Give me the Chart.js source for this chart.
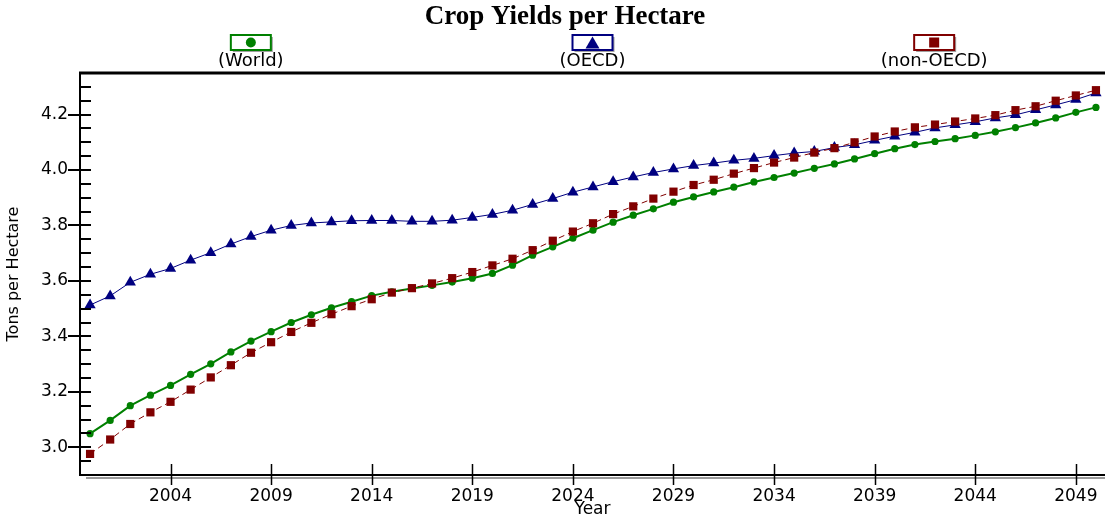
<!DOCTYPE html>
<html>
<head>
<meta charset="utf-8">
<script src="https://cdn.jsdelivr.net/npm/chart.js@4.4.1/dist/chart.umd.min.js"></script>
<style>
html,body{margin:0;padding:0;background:#fff;}
canvas{display:block;}
</style>
</head>
<body>
<canvas id="c" width="1105" height="518"></canvas>
<script>
const titleText = 'Crop Yields per Hectare';
const yAxisTitle = 'Tons per Hectare';
const xAxisTitle = 'Year';
const seriesNames = ['(World)', '(OECD)', '(non-OECD)'];
const seriesColors = ['#008000', '#000080', '#800000'];

const years = [2000,2001,2002,2003,2004,2005,2006,2007,2008,2009,
               2010,2011,2012,2013,2014,2015,2016,2017,2018,2019,
               2020,2021,2022,2023,2024,2025,2026,2027,2028,2029,
               2030,2031,2032,2033,2034,2035,2036,2037,2038,2039,
               2040,2041,2042,2043,2044,2045,2046,2047,2048,2049,2050];

const world = [3.049,3.097,3.150,3.188,3.223,3.263,3.301,3.344,3.383,3.417,
               3.450,3.478,3.503,3.525,3.547,3.561,3.573,3.584,3.596,3.610,
               3.627,3.657,3.693,3.723,3.754,3.783,3.812,3.837,3.860,3.884,
               3.903,3.921,3.938,3.957,3.973,3.989,4.006,4.022,4.040,4.059,
               4.077,4.092,4.103,4.113,4.125,4.138,4.153,4.170,4.188,4.208,4.226];

const oecd = [3.513,3.546,3.595,3.624,3.645,3.675,3.702,3.733,3.760,3.783,
              3.800,3.809,3.813,3.817,3.818,3.818,3.815,3.815,3.819,3.829,
              3.840,3.855,3.876,3.897,3.920,3.939,3.958,3.975,3.991,4.004,
              4.016,4.025,4.035,4.042,4.052,4.061,4.067,4.081,4.091,4.107,
              4.122,4.136,4.152,4.163,4.174,4.188,4.199,4.217,4.235,4.254,4.278];

const nonOecd = [2.976,3.028,3.084,3.126,3.164,3.208,3.252,3.296,3.341,3.379,
                 3.416,3.449,3.480,3.509,3.534,3.558,3.574,3.591,3.610,3.632,
                 3.656,3.680,3.711,3.745,3.778,3.808,3.841,3.869,3.897,3.922,
                 3.946,3.965,3.987,4.007,4.027,4.045,4.063,4.079,4.100,4.121,
                 4.139,4.154,4.164,4.175,4.186,4.198,4.216,4.230,4.250,4.269,4.288];

const xTickYears = [2004,2009,2014,2019,2024,2029,2034,2039,2044,2049];
const yLabelValues = [3.0,3.2,3.4,3.6,3.8,4.0,4.2];

const toPts = arr => years.map((yr, i) => ({x: yr, y: arr[i]}));
const isLabelled = v => yLabelValues.some(l => Math.abs(l - v) < 1e-6);

const SANS = 'DejaVu Sans';

const decorPlugin = {
  id: 'decor',
  afterDraw(chart) {
    const {ctx, chartArea: a, scales: {x, y}} = chart;
    ctx.save();
    // shadow under bottom axis
    ctx.strokeStyle = '#9a9a9a';
    ctx.lineWidth = 2;
    ctx.beginPath();
    ctx.moveTo(a.left + 6, a.bottom + 3);
    ctx.lineTo(a.right, a.bottom + 3);
    ctx.stroke();
    // axes
    ctx.strokeStyle = '#000';
    ctx.lineWidth = 2;
    ctx.beginPath();
    ctx.moveTo(a.left, a.top);
    ctx.lineTo(a.left, a.bottom);
    ctx.lineTo(a.right, a.bottom);
    ctx.stroke();
    ctx.lineWidth = 3;
    ctx.beginPath();
    ctx.moveTo(a.left - 1, a.top);
    ctx.lineTo(a.right, a.top);
    ctx.stroke();
    // y ticks
    ctx.lineWidth = 2;
    ctx.beginPath();
    y.ticks.forEach(t => {
      const py = Math.round(y.getPixelForValue(t.value));
      if (py < a.top + 2 || py > a.bottom - 2) return;
      ctx.moveTo(isLabelled(t.value) ? a.left - 12 : a.left, py);
      ctx.lineTo(a.left + 11, py);
    });
    ctx.stroke();
    // x ticks
    ctx.lineWidth = 1.5;
    ctx.beginPath();
    xTickYears.forEach(v => {
      const px = Math.round(x.getPixelForValue(v)) + 0.5;
      ctx.moveTo(px, a.bottom - 11);
      ctx.lineTo(px, a.bottom + 10);
    });
    ctx.stroke();

    // title
    ctx.fillStyle = '#000';
    ctx.font = 'bold 27px "Liberation Serif"';
    ctx.textAlign = 'center';
    ctx.textBaseline = 'middle';
    ctx.fillText(titleText, 565, 17);

    // legend
    const w = (a.right - a.left) / 3;
    chart.data.datasets.forEach((ds, i) => {
      const cx = a.left + (i + 0.5) * w;
      const bx = cx - 20, by = 35, bw = 40, bh = 15;
      ctx.fillStyle = '#a0a0a0';
      ctx.fillRect(bx + 2, by + 2, bw, bh);
      ctx.fillStyle = '#fff';
      ctx.fillRect(bx, by, bw, bh);
      ctx.strokeStyle = ds.borderColor;
      ctx.lineWidth = 2;
      ctx.strokeRect(bx, by, bw, bh);
      ctx.fillStyle = ds.borderColor;
      const my = by + bh / 2;
      if (ds.pointStyle === 'circle') {
        ctx.beginPath(); ctx.arc(cx, my, 5, 0, Math.PI * 2); ctx.fill();
      } else if (ds.pointStyle === 'triangle') {
        ctx.beginPath(); ctx.moveTo(cx, my - 6); ctx.lineTo(cx + 7, my + 6); ctx.lineTo(cx - 7, my + 6); ctx.closePath(); ctx.fill();
      } else {
        ctx.fillRect(cx - 5, my - 5, 10, 10);
      }
      ctx.fillStyle = '#000';
      ctx.font = '18px "' + SANS + '"';
      ctx.textAlign = 'center';
      ctx.textBaseline = 'middle';
      ctx.fillText(seriesNames[i], cx, 61);
    });
    ctx.restore();
  }
};

new Chart(document.getElementById('c'), {
  type: 'line',
  data: {
    datasets: [
      {
        label: seriesNames[0], data: toPts(world),
        borderColor: seriesColors[0], backgroundColor: seriesColors[0],
        borderWidth: 2, pointStyle: 'circle', pointRadius: 3.6,
        pointBorderWidth: 0, tension: 0, order: 1
      },
      {
        label: seriesNames[1], data: toPts(oecd),
        borderColor: seriesColors[1], backgroundColor: seriesColors[1],
        borderWidth: 1, pointStyle: 'triangle', pointRadius: 6.5,
        pointBorderWidth: 0, tension: 0, order: 2
      },
      {
        label: seriesNames[2], data: toPts(nonOecd),
        borderColor: seriesColors[2], backgroundColor: seriesColors[2],
        borderWidth: 1, borderDash: [6, 4], pointStyle: 'rect', pointRadius: 5.8,
        pointBorderWidth: 0, tension: 0, order: 0
      }
    ]
  },
  options: {
    responsive: false,
    animation: false,
    devicePixelRatio: 1,
    layout: {autoPadding: false, padding: {top: 73, left: 0, right: 0, bottom: 0}},
    plugins: {legend: {display: false}, title: {display: false}, tooltip: {enabled: false}},
    scales: {
      x: {
        type: 'linear', min: 1999.5, max: 2050.45,
        grid: {display: false, drawTicks: false},
        border: {display: false},
        afterBuildTicks: s => { s.ticks = xTickYears.map(v => ({value: v})); },
        afterFit: s => { s.height = 43; s.paddingLeft = 0; s.paddingRight = 0; },
        ticks: {
          color: '#000', padding: 11, maxRotation: 0, autoSkip: false,
          font: {family: SANS, size: 17},
          callback: v => String(v)
        },
        title: {display: true, text: xAxisTitle, color: '#000', font: {family: SANS, size: 17, lineHeight: 1}, padding: {top: 0, bottom: 0}}
      },
      y: {
        type: 'linear', min: 2.9, max: 4.35,
        grid: {display: false, drawTicks: false},
        border: {display: false},
        afterFit: s => { s.width = 80; s.paddingTop = 0; s.paddingBottom = 0; },
        ticks: {
          stepSize: 0.05, color: '#000', padding: 12, autoSkip: false,
          font: {family: SANS, size: 17},
          callback: v => isLabelled(v) ? v.toFixed(1) : ''
        },
        title: {display: true, text: yAxisTitle, color: '#000', font: {family: SANS, size: 16}, padding: {top: 4, bottom: 0}}
      }
    }
  },
  plugins: [decorPlugin]
});
</script>
</body>
</html>
